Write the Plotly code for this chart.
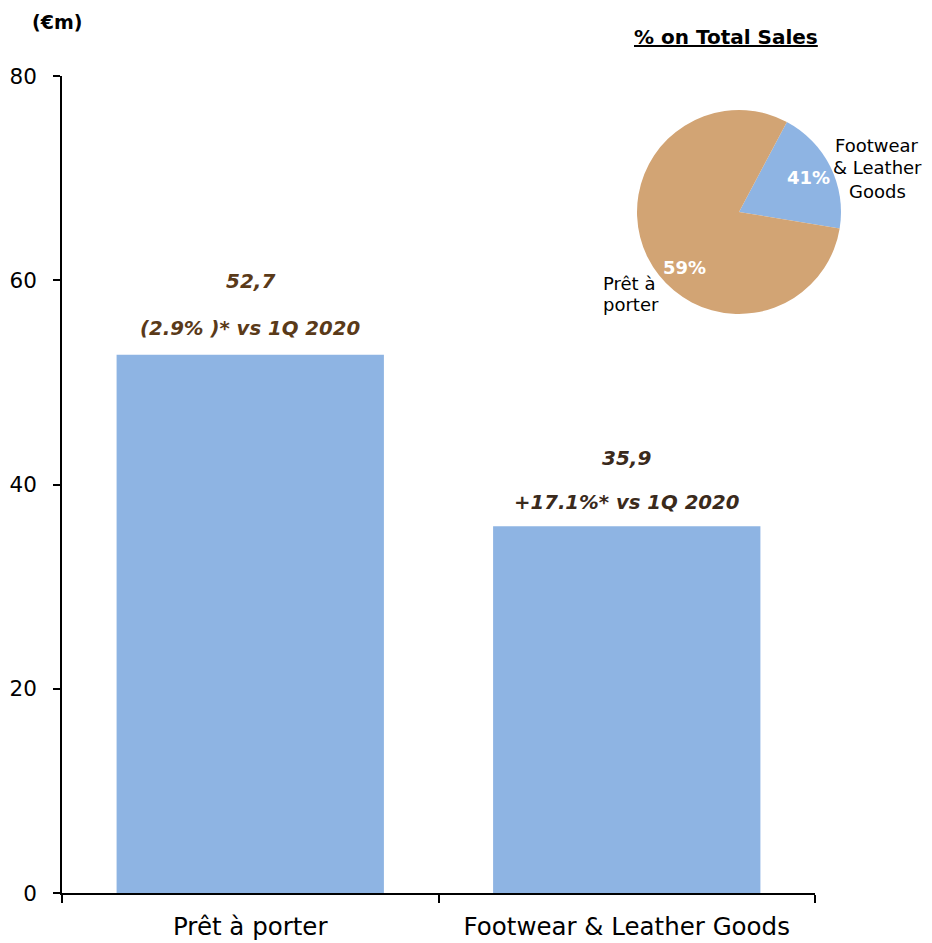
import plotly.graph_objects as go

# ---- data ----
categories = ["Prêt à porter", "Footwear & Leather Goods"]
sales_m = [52.7, 35.9]
value_labels = ["52,7", "35,9"]
growth_labels = ["(2.9% )* vs 1Q 2020", "+17.1%* vs 1Q 2020"]
y_ticks = [0, 20, 40, 60, 80]

pie_names = ["Footwear & Leather Goods", "Prêt à porter"]
pie_slice_share = [19.8, 80.2]      # slice sizes as drawn in the picture
pie_text = ["41%", "59%"]            # printed labels
pie_outside_lines = [["Footwear", "& Leather", "Goods"], ["Prêt à", "porter"]]

# ---- layout geometry (pixels, in reference-picture coordinates) ----
W, H = 932, 943
OFF = 8                     # page body margin of the rendered html
ML, MR, MT = 62 - OFF, 10, 10
MB = H - (893 - OFF)
PW, PH = W - ML - MR, H - MT - MB

def px_x(x):
    return (x - OFF - ML) / PW

def px_y(y):
    return (H - MB - (y - OFF)) / PH

bar_color = "#8EB4E3"
tan_color = "#D2A474"
font_family = "DejaVu Sans, Verdana, sans-serif"

fig = go.Figure()
fig.add_trace(go.Bar(
    x=categories, y=sales_m, marker=dict(color=bar_color, line=dict(width=0)),
    width=0.71, showlegend=False, hoverinfo="skip",
))

fig.add_trace(go.Pie(
    labels=pie_names, values=pie_slice_share,
    textinfo="none",
    marker=dict(colors=[bar_color, tan_color], line=dict(width=0)),
    sort=False, direction="clockwise", rotation=28,
    domain=dict(x=[px_x(637), px_x(841)], y=[px_y(314), px_y(110)]),
    showlegend=False, hoverinfo="skip",
))

annotations = []
label_colors = ["#5A3A19", "#3A2A1C"]
shifts = [(74, 26), (68, 24)]
for cat, val, vl, gl, c, (s1, s2) in zip(categories, sales_m, value_labels, growth_labels, label_colors, shifts):
    annotations.append(dict(x=cat, y=val, xref="x", yref="y", text="<b><i>%s</i></b>" % vl,
                            showarrow=False, yshift=s1, yanchor="middle",
                            font=dict(size=20, color=c, family=font_family)))
    annotations.append(dict(x=cat, y=val, xref="x", yref="y", text="<b><i>%s</i></b>" % gl,
                            showarrow=False, yshift=s2, yanchor="middle",
                            font=dict(size=19.7, color=c, family=font_family)))

# percentage labels inside the pie slices
pct_pos = [(808, 177), (684, 267)]
for t, (px, py) in zip(pie_text, pct_pos):
    annotations.append(dict(x=px_x(px), y=px_y(py), xref="paper", yref="paper",
                            text="<b>%s</b>" % t, showarrow=False,
                            xanchor="center", yanchor="middle",
                            font=dict(size=18, color="white", family=font_family)))

# outside category labels of the pie (one annotation per line)
outside_specs = [
    dict(x=877, y0=145, dy=23, xanchor="center"),
    dict(x=601, y0=283, dy=22, xanchor="left"),
]
for lines, spec in zip(pie_outside_lines, outside_specs):
    for i, line in enumerate(lines):
        annotations.append(dict(x=px_x(spec["x"]), y=px_y(spec["y0"] + i * spec["dy"]),
                                xref="paper", yref="paper", text=line, showarrow=False,
                                xanchor=spec["xanchor"], yanchor="middle",
                                font=dict(size=18, color="black", family=font_family)))

annotations += [
    dict(x=px_x(57), y=px_y(22), xref="paper", yref="paper", text="<b>(€m)</b>",
         showarrow=False, xanchor="center", yanchor="middle",
         font=dict(size=19, color="black", family=font_family)),
    dict(x=px_x(726), y=px_y(37), xref="paper", yref="paper", text="<u><b>% on Total Sales</b></u>",
         showarrow=False, xanchor="center", yanchor="middle",
         font=dict(size=20, color="black", family=font_family)),
]

fig.update_layout(
    width=W, height=H,
    margin=dict(l=ML, r=MR, t=MT, b=MB, autoexpand=False),
    paper_bgcolor="white", plot_bgcolor="white",
    bargap=0.29,
    annotations=annotations,
    font=dict(family=font_family, color="black"),
    xaxis=dict(
        domain=[0, px_x(815)], type="category", tickson="boundaries",
        showline=True, linecolor="black", linewidth=1.5,
        ticks="outside", ticklen=8, tickcolor="black", tickwidth=1.5,
        tickfont=dict(size=24.5, color="black"), showgrid=False, zeroline=False,
        fixedrange=True, automargin=False, ticklabelstandoff=11,
    ),
    yaxis=dict(
        domain=[0, px_y(76)], range=[0, 80], tickvals=y_ticks,
        showline=True, linecolor="black", linewidth=1.5,
        ticks="outside", ticklen=7, tickcolor="black", tickwidth=1.5,
        tickfont=dict(size=21.5, color="black"), showgrid=False, zeroline=False,
        fixedrange=True, automargin=False, ticklabelstandoff=12,
    ),
)

fig.write_html("out.html")
